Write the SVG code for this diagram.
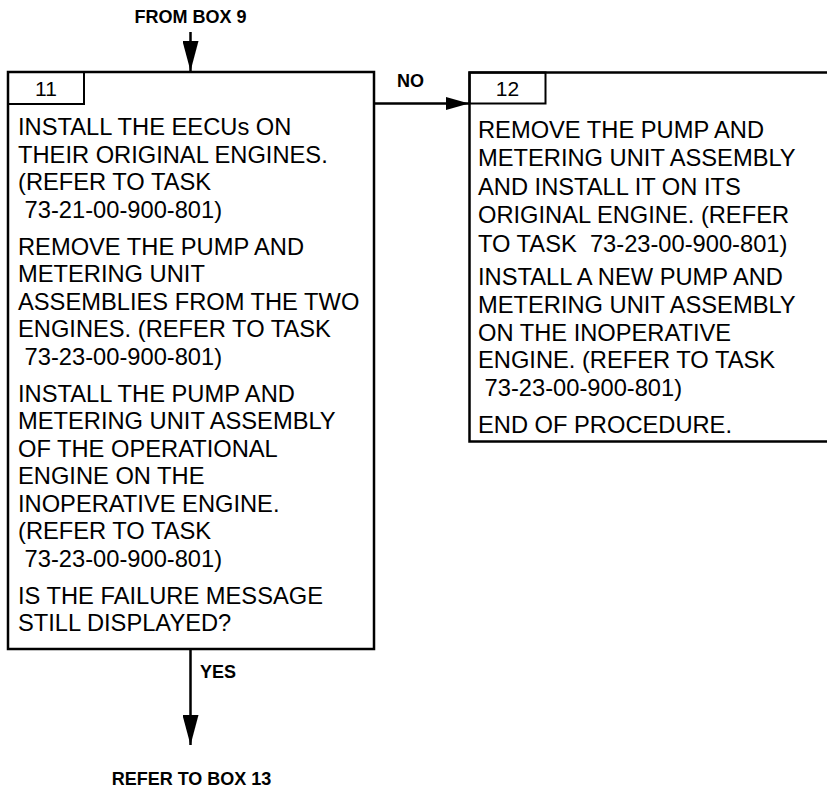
<svg xmlns="http://www.w3.org/2000/svg" width="827" height="789" viewBox="0 0 827 789">
<style>
.box{fill:#fff;stroke:#000;stroke-width:2.5}
.tab{fill:none;stroke:#000;stroke-width:2}
.t{font-family:"Liberation Sans",Arial,sans-serif;font-size:23.7px;fill:#000}
.num{font-family:"Liberation Sans",Arial,sans-serif;font-size:21px;fill:#000;text-anchor:middle}
.lbl{font-family:"Liberation Sans",Arial,sans-serif;font-size:18px;font-weight:bold;fill:#000}
.c{fill:none;stroke:#000;stroke-width:2.5}
</style>
<defs>
<marker id="arrowV" viewBox="0 0 30 16" refX="30" refY="8" markerWidth="30" markerHeight="16" markerUnits="userSpaceOnUse" orient="auto">
<path d="M0,0 L30,8 L0,16 z" fill="#000"/>
</marker>
<marker id="arrowH" viewBox="0 0 23 13" refX="23" refY="6.5" markerWidth="23" markerHeight="13" markerUnits="userSpaceOnUse" orient="auto">
<path d="M0,0 L23,6.5 L0,13 z" fill="#000"/>
</marker>
</defs>
<rect width="827" height="789" fill="#fff"/>
<g id="box11">
<rect class="box" x="8" y="72" width="366" height="577"/>
<rect class="tab" x="8" y="72" width="76" height="32"/>
<text class="num" x="46" y="96">11</text>
<text class="t" x="18">
<tspan x="18" y="135">INSTALL THE EECUs ON</tspan>
<tspan x="18" y="162.5">THEIR ORIGINAL ENGINES.</tspan>
<tspan x="18" y="190">(REFER TO TASK</tspan>
<tspan x="18" y="217.5" xml:space="preserve"> 73-21-00-900-801)</tspan>
<tspan x="18" y="254.5">REMOVE THE PUMP AND</tspan>
<tspan x="18" y="282">METERING UNIT</tspan>
<tspan x="18" y="309.5">ASSEMBLIES FROM THE TWO</tspan>
<tspan x="18" y="337">ENGINES. (REFER TO TASK</tspan>
<tspan x="18" y="364.5" xml:space="preserve"> 73-23-00-900-801)</tspan>
<tspan x="18" y="401.5">INSTALL THE PUMP AND</tspan>
<tspan x="18" y="429">METERING UNIT ASSEMBLY</tspan>
<tspan x="18" y="456.5">OF THE OPERATIONAL</tspan>
<tspan x="18" y="484">ENGINE ON THE</tspan>
<tspan x="18" y="511.5">INOPERATIVE ENGINE.</tspan>
<tspan x="18" y="539">(REFER TO TASK</tspan>
<tspan x="18" y="566.5" xml:space="preserve"> 73-23-00-900-801)</tspan>
<tspan x="18" y="603.5">IS THE FAILURE MESSAGE</tspan>
<tspan x="18" y="631">STILL DISPLAYED?</tspan>
</text>
</g>
<g id="box12">
<rect class="box" x="469.5" y="72.5" width="380" height="369"/>
<rect class="tab" x="469.5" y="72.5" width="76" height="31"/>
<text class="num" x="507.5" y="96">12</text>
<text class="t">
<tspan x="478" y="138">REMOVE THE PUMP AND</tspan>
<tspan x="478" y="166">METERING UNIT ASSEMBLY</tspan>
<tspan x="478" y="194.5">AND INSTALL IT ON ITS</tspan>
<tspan x="478" y="223">ORIGINAL ENGINE. (REFER</tspan>
<tspan x="478" y="251.5" xml:space="preserve">TO TASK  73-23-00-900-801)</tspan>
<tspan x="478" y="285">INSTALL A NEW PUMP AND</tspan>
<tspan x="478" y="313">METERING UNIT ASSEMBLY</tspan>
<tspan x="478" y="340.5">ON THE INOPERATIVE</tspan>
<tspan x="478" y="368">ENGINE. (REFER TO TASK</tspan>
<tspan x="478" y="395.5" xml:space="preserve"> 73-23-00-900-801)</tspan>
<tspan x="478" y="433">END OF PROCEDURE.</tspan>
</text>
</g>
<g id="connectors">
<line class="c" x1="190.5" y1="32" x2="190.5" y2="71" marker-end="url(#arrowV)"/>
<line class="c" x1="374" y1="103.5" x2="469" y2="103.5" marker-end="url(#arrowH)"/>
<line class="c" x1="190.5" y1="649" x2="190.5" y2="745" marker-end="url(#arrowV)"/>
<text class="lbl" x="190.5" y="23" text-anchor="middle">FROM BOX 9</text>
<text class="lbl" x="397" y="87">NO</text>
<text class="lbl" x="200" y="678">YES</text>
<text class="lbl" x="191.5" y="785" text-anchor="middle">REFER TO BOX 13</text>
</g>
</svg>
